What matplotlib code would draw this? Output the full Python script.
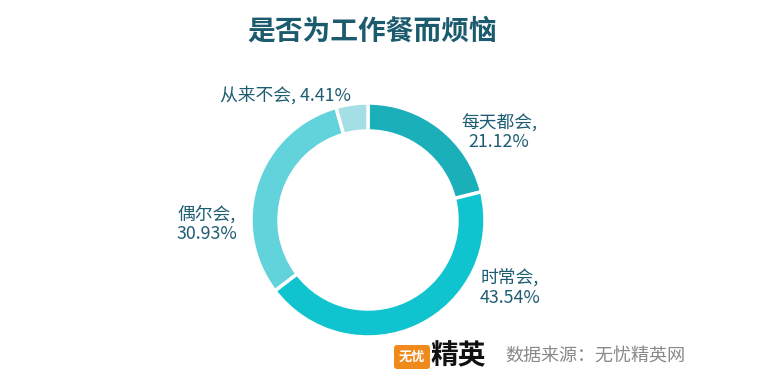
import matplotlib.pyplot as plt
from matplotlib.patches import FancyBboxPatch

plt.rcParams['font.family'] = ['Noto Sans CJK SC', 'DejaVu Sans']

categories = ['每天都会', '时常会', '偶尔会', '从来不会']
shares = [21.12, 43.54, 30.93, 4.41]
colors = ['#1aafb9', '#0fc4ce', '#62d3db', '#a3dfe5']
# label centres in image pixels (x, y from top)
label_pos = [(499, 132), (510, 288), (207, 224), (286, 95)]
multiline = [True, True, True, False]

W, H = 771, 387
fig = plt.figure(figsize=(W / 100, H / 100), dpi=100)
ax = fig.add_axes([0, 0, 1, 1])

cx, cy, r = 368, H - 220, 117
ax.pie(shares, colors=colors, startangle=90, counterclock=False,
       radius=r, center=(cx, cy), frame=True,
       wedgeprops=dict(width=28, edgecolor='white', linewidth=2.5))
ax.set_xlim(0, W)
ax.set_ylim(0, H)
ax.set_aspect('equal')
ax.axis('off')

for name, val, (x, y), ml in zip(categories, shares, label_pos, multiline):
    sep = ',\n' if ml else ', '
    ax.text(x, H - y, f'{name}{sep}{val:.2f}%', ha='center', va='center',
            fontsize=12.8, color='#1f5d73', linespacing=1.1)

ax.text(372, H - 32, '是否为工作餐而烦恼', ha='center', va='center',
        fontsize=20, fontweight='bold', color='#1c5b6e')

# footer logo and source
box = FancyBboxPatch((394, H - 369), 36, 24, boxstyle='round,pad=0,rounding_size=3',
                     fc='#f08a1c', ec='none')
ax.add_patch(box)
ax.text(412, H - 357, '无忧', ha='center', va='center', fontsize=9.5,
        fontweight='bold', color='white')
ax.text(458, H - 356, '精英', ha='center', va='center', fontsize=20,
        fontweight='bold', color='#111111')
ax.text(505, H - 357, '数据来源：无忧精英网', ha='left', va='center',
        fontsize=13, color='#888888')

fig.savefig('out.png', dpi=100)
